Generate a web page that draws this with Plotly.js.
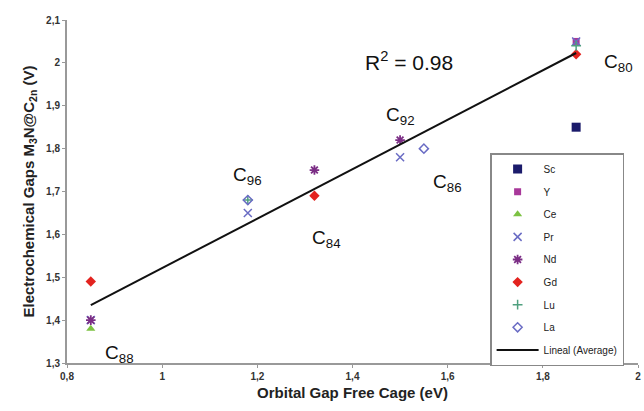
<!DOCTYPE html>
<html>
<head>
<meta charset="utf-8">
<script src="https://cdn.plot.ly/plotly-3.0.1.min.js"></script>
<style>html,body{margin:0;padding:0;background:#fff}#chart{width:644px;height:411px}</style>
</head>
<body>
<div id="chart"></div>
<script>
// Data
const seriesNames = ["Sc", "Y", "Ce", "Pr", "Nd", "Gd", "Lu", "La"];
const scX = [1.87];            const scY = [1.85];
const yX = [1.87];             const yY = [2.05];
const ceX = [0.85];            const ceY = [1.38];
const prX = [0.85, 1.18, 1.50, 1.87]; const prY = [1.40, 1.65, 1.78, 2.05];
const ndX = [0.85, 1.32, 1.50]; const ndY = [1.40, 1.75, 1.82];
const gdX = [0.85, 1.32, 1.87]; const gdY = [1.49, 1.69, 2.02];
const luX = [1.18, 1.87];      const luY = [1.68, 2.04];
const laX = [1.18, 1.55];      const laY = [1.68, 1.80];
const fitX = [0.85, 1.87];     const fitY = [1.435, 2.023];
const xTicks = [0.8, 1, 1.2, 1.4, 1.6, 1.8, 2];
const yTicks = [1.3, 1.4, 1.5, 1.6, 1.7, 1.8, 1.9, 2, 2.1];
const cageLabels = [
  {text: "C<sub>80</sub>", x: 1.96, y: 2.0},
  {text: "C<sub>92</sub>", x: 1.50, y: 1.875},
  {text: "C<sub>96</sub>", x: 1.18, y: 1.735},
  {text: "C<sub>84</sub>", x: 1.345, y: 1.59},
  {text: "C<sub>86</sub>", x: 1.60, y: 1.72},
  {text: "C<sub>88</sub>", x: 0.91, y: 1.322}
];
const r2Text = "R<sup>2</sup> = 0.98";
const r2Pos = {x: 1.518, y: 2.005};

const mk = (name, x, y, marker) => ({type: "scatter", mode: "markers", name, legendgroup: name, x, y, marker, cliponaxis: false});
const traces = [
  mk("Sc", scX, scY, {symbol: "square", size: 9, color: "#1b1b6b"}),
  mk("Y", yX, yY, {symbol: "square", size: 7, color: "#a8389a"}),
  mk("Ce", ceX, ceY, {symbol: "triangle-up", size: 8, color: "#7cc242"}),
  mk("Pr", prX, prY, {symbol: "x-thin-open", size: 8, color: "#6a6cc4", line: {width: 1.5, color: "#6a6cc4"}}),
  mk("Nd", ndX, ndY, {symbol: "asterisk-open", size: 8, color: "#7b2d85", line: {width: 1.8, color: "#7b2d85"}}),
  mk("Gd", gdX, gdY, {symbol: "diamond", size: 8, color: "#e3231f"}),
  mk("Lu", luX, luY, {symbol: "cross-thin-open", size: 7, color: "#4fa07f", line: {width: 1.5, color: "#4fa07f"}}),
  mk("La", laX, laY, {symbol: "diamond-open", size: 7, color: "#6a6cc4", line: {width: 1.5, color: "#6a6cc4"}}),
  {type: "scatter", mode: "lines", name: "Lineal (Average)", legendgroup: "fit", x: fitX, y: fitY, line: {color: "#111", width: 2}}
];

const annotations = cageLabels.map(c => ({
  text: c.text, x: c.x, y: c.y, xref: "x", yref: "y", showarrow: false,
  font: {family: "Liberation Sans, Arial", size: 19, color: "#111"}
}));
annotations.push({text: r2Text, x: r2Pos.x, y: r2Pos.y, xref: "x", yref: "y", showarrow: false,
  font: {family: "Liberation Sans, Arial", size: 21, color: "#111"}});

const layout = {
  width: 644, height: 411,
  margin: {l: 67, r: 6, t: 20, b: 48},
  paper_bgcolor: "#fff", plot_bgcolor: "#fff",
  separators: ",.",
  font: {family: "Liberation Sans, Arial", color: "#222"},
  showlegend: true,
  legend: {
    x: 0.741, y: 0.612, xanchor: "left", yanchor: "top",
    bordercolor: "#888", borderwidth: 1.5, bgcolor: "#fff",
    font: {size: 10, color: "#222"}, itemwidth: 42, tracegroupgap: 3.6
  },
  xaxis: {
    range: [0.8, 2], tickvals: xTicks, ticks: "outside", ticklen: 3, tickcolor: "#999",
    showline: true, linecolor: "#999", linewidth: 2, showgrid: false, zeroline: false,
    tickfont: {size: 10, weight: "bold", color: "#333"},
    title: {text: "Orbital Gap Free Cage (eV)", font: {size: 15, weight: "bold", color: "#222"}, standoff: 6}
  },
  yaxis: {
    range: [1.3, 2.1], tickvals: yTicks, ticks: "outside", ticklen: 3, tickcolor: "#999",
    showline: true, linecolor: "#999", linewidth: 2, showgrid: false, zeroline: false,
    tickfont: {size: 10, weight: "bold", color: "#333"},
    title: {text: "Electrochemical Gaps M<sub>3</sub>N@C<sub>2n</sub> (V)", font: {size: 15, weight: "bold", color: "#222"}, standoff: 8}
  },
  annotations
};

Plotly.newPlot("chart", traces, layout, {displayModeBar: false, staticPlot: true});
</script>
</body>
</html>
